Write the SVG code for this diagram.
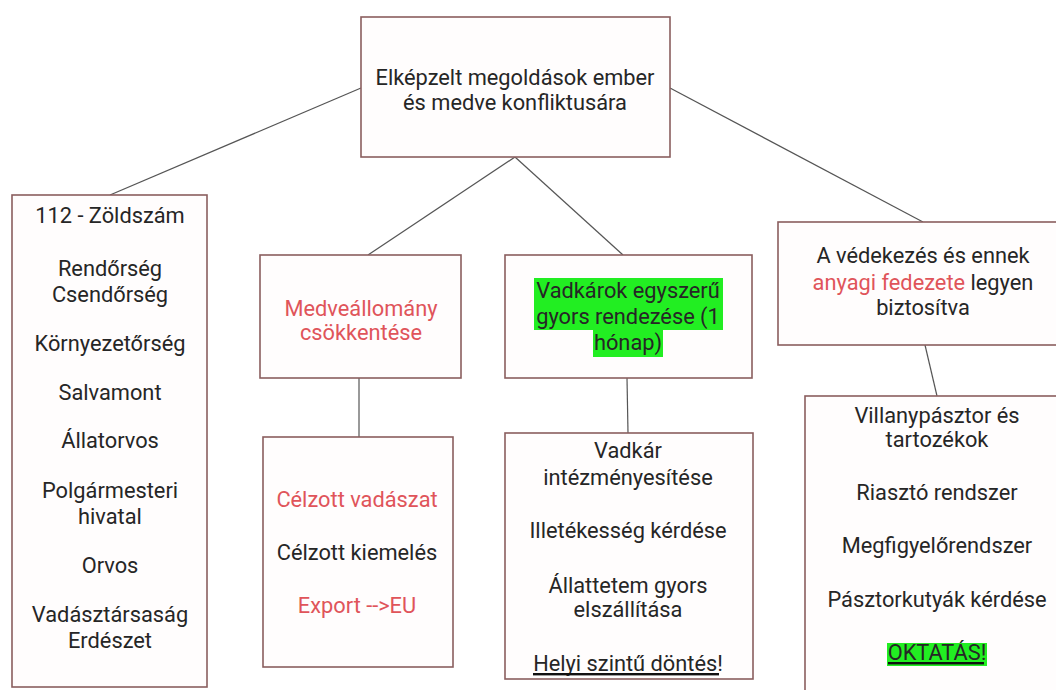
<svg xmlns="http://www.w3.org/2000/svg" width="1056" height="690" viewBox="0 0 1056 690">
<style>
.box{fill:#fffdfd;stroke:#8a5e5e;stroke-width:1.6}
.t{font-family:Roboto,"Liberation Sans",sans-serif;font-size:21.8px;fill:#262626;text-anchor:middle}
.r{fill:#e0545a}
.hl{fill:#22ee22}
.conn line{stroke:#555;stroke-width:1.2}
</style>
<rect width="1056" height="690" fill="#ffffff"/>
<g class="conn">
<line x1="361" y1="88" x2="110" y2="195"/>
<line x1="670" y1="88" x2="923" y2="222"/>
<line x1="515" y1="157" x2="368" y2="255"/>
<line x1="515" y1="157" x2="623" y2="255"/>
<line x1="359" y1="378" x2="359" y2="437"/>
<line x1="627" y1="378" x2="628" y2="433"/>
<line x1="925" y1="345" x2="937" y2="396"/>
</g>
<g id="root">
<rect class="box" x="361" y="17" width="309" height="140"/>
<text class="t" x="515" y="85">Elképzelt megoldások ember</text>
<text class="t" x="515" y="110">és medve konfliktusára</text>
</g>
<g id="contacts">
<rect class="box" x="12" y="195" width="195" height="492"/>
<text class="t" x="110" y="223">112 - Zöldszám</text>
<text class="t" x="110" y="276">Rendőrség</text>
<text class="t" x="110" y="302">Csendőrség</text>
<text class="t" x="110" y="351">Környezetőrség</text>
<text class="t" x="110" y="400">Salvamont</text>
<text class="t" x="110" y="448">Állatorvos</text>
<text class="t" x="110" y="498">Polgármesteri</text>
<text class="t" x="110" y="524">hivatal</text>
<text class="t" x="110" y="573">Orvos</text>
<text class="t" x="110" y="622">Vadásztársaság</text>
<text class="t" x="110" y="648">Erdészet</text>
</g>
<g id="reduce">
<rect class="box" x="260" y="255" width="201" height="123"/>
<text class="t r" x="361" y="316">Medveállomány</text>
<text class="t r" x="361" y="340">csökkentése</text>
</g>
<g id="damage">
<rect class="box" x="505" y="255" width="247" height="123"/>
<rect class="hl" x="534" y="278" width="189" height="26"/>
<rect class="hl" x="534" y="304" width="189" height="26"/>
<rect class="hl" x="593" y="330" width="70" height="27"/>
<text class="t" x="628" y="298">Vadkárok egyszerű</text>
<text class="t" x="628" y="324">gyors rendezése (1</text>
<text class="t" x="628" y="350">hónap)</text>
</g>
<g id="hunting">
<rect class="box" x="263" y="437" width="190" height="230"/>
<text class="t r" x="357" y="507">Célzott vadászat</text>
<text class="t" x="357" y="560">Célzott kiemelés</text>
<text class="t r" x="357" y="613">Export --&gt;EU</text>
</g>
<g id="institution">
<rect class="box" x="505" y="433" width="248" height="246"/>
<text class="t" x="628" y="458">Vadkár</text>
<text class="t" x="628" y="485">intézményesítése</text>
<text class="t" x="628" y="538">Illetékesség kérdése</text>
<text class="t" x="628" y="593">Állattetem gyors</text>
<text class="t" x="628" y="617">elszállítása</text>
<text class="t" x="628" y="671">Helyi szintű döntés!</text>
<rect x="533" y="673" width="186" height="2.4" fill="#111"/>
</g>
<g id="funding">
<rect class="box" x="778" y="222" width="290" height="123"/>
<text class="t" x="923" y="263">A védekezés és ennek</text>
<text class="t" x="923" y="290"><tspan class="r">anyagi fedezete</tspan> legyen</text>
<text class="t" x="923" y="315">biztosítva</text>
</g>
<g id="protection">
<rect class="box" x="805" y="396" width="270" height="310"/>
<text class="t" x="937" y="423">Villanypásztor és</text>
<text class="t" x="937" y="447">tartozékok</text>
<text class="t" x="937" y="500">Riasztó rendszer</text>
<text class="t" x="937" y="553">Megfigyelőrendszer</text>
<text class="t" x="937" y="607">Pásztorkutyák kérdése</text>
<rect class="hl" x="887" y="643" width="100" height="23"/>
<text class="t" x="937" y="660">OKTATÁS!</text>
<rect x="888" y="662" width="96" height="2.4" fill="#111"/>
</g>
</svg>
